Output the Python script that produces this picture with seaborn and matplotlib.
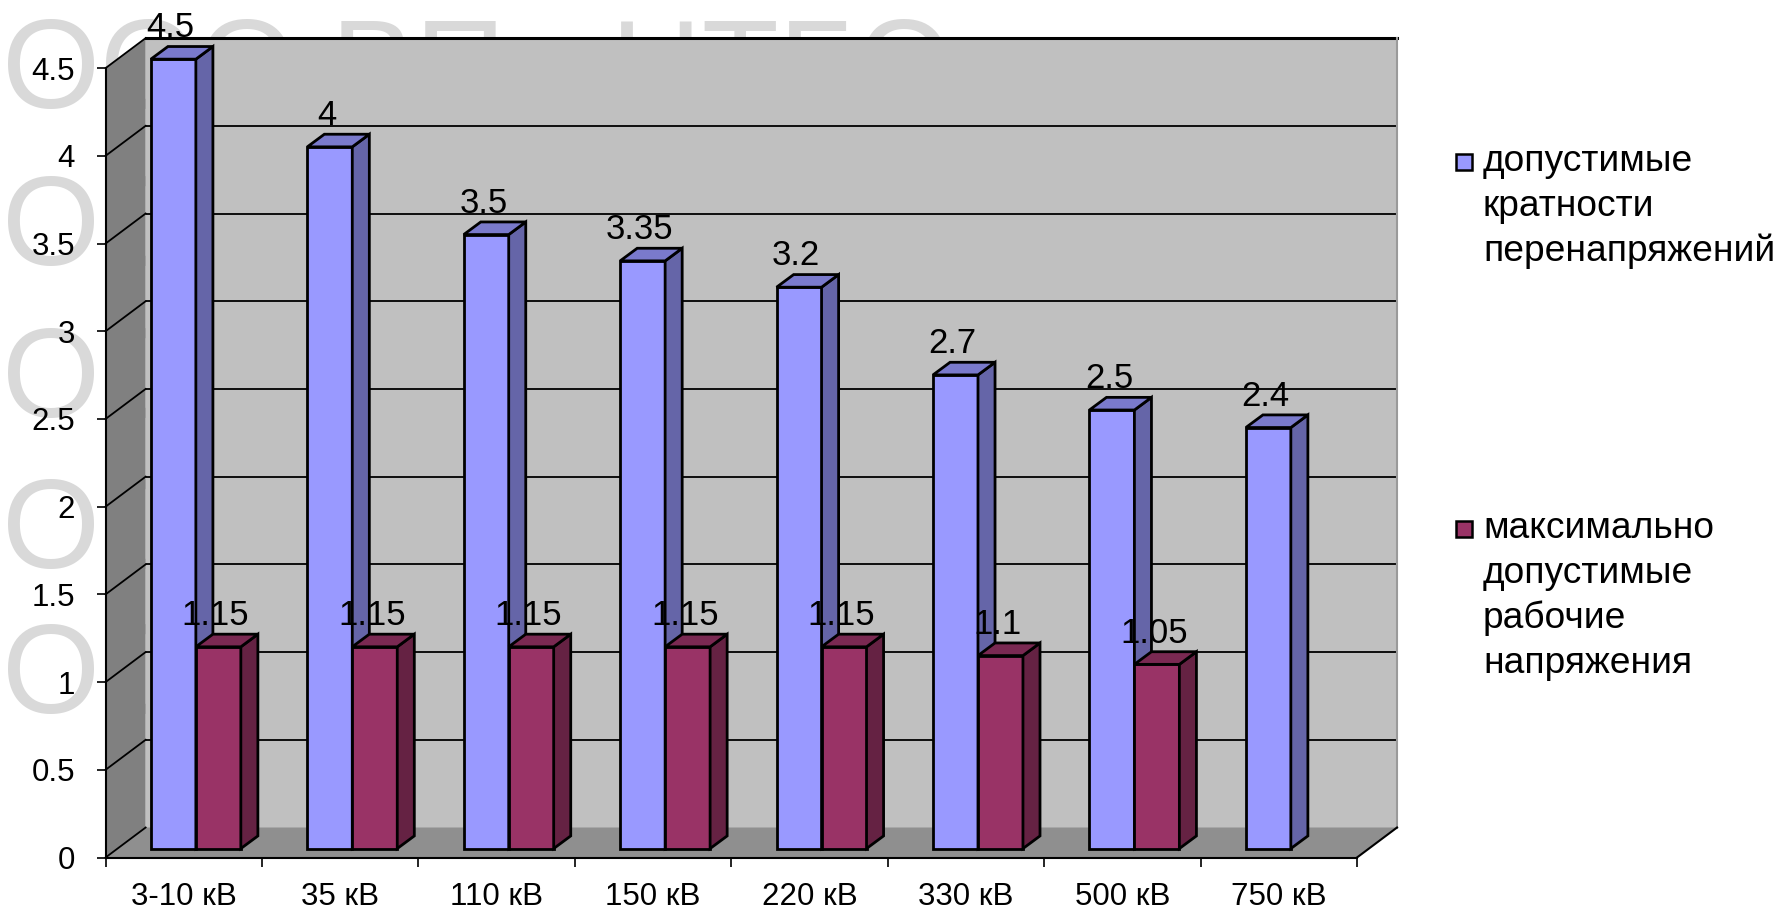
import numpy as np
import pandas as pd
import seaborn as sns
import matplotlib.pyplot as plt
from matplotlib.patches import Polygon, Rectangle
from matplotlib.colors import to_rgb
from matplotlib.ticker import FuncFormatter

# data
categories = ["3-10 кВ", "35 кВ", "110 кВ", "150 кВ", "220 кВ", "330 кВ", "500 кВ", "750 кВ"]
overvoltage = [4.5, 4.0, 3.5, 3.35, 3.2, 2.7, 2.5, 2.4]
max_working = [1.15, 1.15, 1.15, 1.15, 1.15, 1.1, 1.05, None]
series_names = ["допустимые\nкратности\nперенапряжений",
                "максимально\nдопустимые\nрабочие\nнапряжения"]
palette = ["#9999ff", "#993366"]
y_ticks = [0, 0.5, 1, 1.5, 2, 2.5, 3, 3.5, 4, 4.5]
watermark = "ООО ВП «НТБЭ»"

df = pd.DataFrame({
    "category": categories * 2,
    "series": [series_names[0]] * len(categories) + [series_names[1]] * len(categories),
    "value": overvoltage + max_working,
}).dropna()

W, H = 1781, 913
plt.rcParams["font.family"] = ["Liberation Sans", "DejaVu Sans"]

fig = plt.figure(figsize=(W / 100, H / 100), dpi=100)
ax = fig.add_axes([105.6 / W, 1 - 857.5 / H, (1357 - 105.6) / W, (857.5 - 68.1) / H])
ax.set_facecolor("none")

sns.barplot(data=df, x="category", y="value", hue="series", order=categories,
            hue_order=series_names, palette=palette, saturation=1, width=0.575,
            edgecolor="black", linewidth=2, errorbar=None, legend=False,
            ax=ax, zorder=3)

x0, x1, ymax = -0.5, len(categories) - 0.5, 4.5
ax.set_xlim(x0, x1)
ax.set_ylim(0, ymax)

# 3d offsets (data units)
bdx, bdy = 0.256, 0.171   # back wall depth
fdx, fdy = 0.077, 0.051   # bar front face inset
ddx, ddy = 0.109, 0.072   # bar depth

# walls and floor
ax.add_patch(Polygon([(x0 + bdx, bdy), (x0 + bdx, ymax + bdy), (x1 + bdx, ymax + bdy), (x1 + bdx, bdy)],
                     fc="#c0c0c0", ec="none", zorder=0.4, clip_on=False))
for v in y_ticks[1:-1]:
    ax.plot([x0 + bdx, x1 + bdx], [v + bdy] * 2, color="black", lw=1.3, zorder=0.45, clip_on=False)
ax.add_patch(Polygon([(x0, 0), (x0, ymax), (x0 + bdx, ymax + bdy), (x0 + bdx, bdy)],
                     fc="#808080", ec="none", zorder=0.5, clip_on=False))
ax.add_patch(Polygon([(x0, 0), (x1, 0), (x1 + bdx, bdy), (x0 + bdx, bdy)],
                     fc="#8f8f8f", ec="none", zorder=0.6, clip_on=False))
for v in y_ticks:
    ax.plot([x0, x0 + bdx], [v, v + bdy], color="black", lw=1.3, zorder=0.7, clip_on=False)
ax.plot([x0 + bdx, x1 + bdx], [ymax + bdy] * 2, color="black", lw=2.2, zorder=0.7, clip_on=False)
ax.plot([x1 + bdx] * 2, [bdy, ymax + bdy], color="#9a9a9a", lw=1.5, zorder=0.7, clip_on=False)
ax.plot([x1, x1 + bdx], [0, bdy], color="black", lw=1.5, zorder=0.7, clip_on=False)

# 3d bars: shift front faces, add side and top faces, value labels
for level, cont in enumerate(ax.containers):
    z = 3 + level * 0.5
    for bar in cont:
        h = bar.get_height()
        if not np.isfinite(h) or h <= 0:
            continue
        bar.set_x(bar.get_x() + fdx)
        bar.set_y(bar.get_y() + fdy)
        bar.set_zorder(z)
        bar.set_clip_on(False)
        bx0 = bar.get_x()
        bx1 = bx0 + bar.get_width()
        by0 = bar.get_y()
        by1 = by0 + h
        fc = np.array(to_rgb(bar.get_facecolor()))
        ax.add_patch(Polygon([(bx1, by0), (bx1 + ddx, by0 + ddy), (bx1 + ddx, by1 + ddy), (bx1, by1)],
                             fc=fc * 0.66, ec="black", lw=2, zorder=z, clip_on=False))
        ax.add_patch(Polygon([(bx0, by1), (bx0 + ddx, by1 + ddy), (bx1 + ddx, by1 + ddy), (bx1, by1)],
                             fc=fc * 0.8, ec="black", lw=2, zorder=z, clip_on=False))
        ax.annotate(f"{h:g}", xy=((bx0 + bx1) / 2, by1 + ddy), xytext=(-2, 1.5),
                    textcoords="offset points", ha="center", va="bottom", fontsize=25,
                    zorder=6, annotation_clip=False)

# axes
for s in ["top", "right"]:
    ax.spines[s].set_visible(False)
for s in ["left", "bottom"]:
    ax.spines[s].set_color("black")
    ax.spines[s].set_linewidth(1.5)
ax.set_yticks(y_ticks)
ax.yaxis.set_major_formatter(FuncFormatter(lambda v, p: f"{v:g}"))
ax.tick_params(axis="y", direction="out", length=6.5, width=1.2, labelsize=22.5, pad=15.5)
ax.set_xticks(np.arange(x0, x1 + 0.01, 1), minor=True)
ax.tick_params(axis="x", which="major", length=0, labelsize=22.5, pad=17.5)
ax.tick_params(axis="x", which="minor", direction="out", length=6.5, width=1.2)
ax.set_xlabel("")
ax.set_ylabel("")

# watermark rows behind the chart
for b in [108, 265, 417, 568, 713]:
    fig.text(2 / W, 1 - b / H, watermark, fontsize=90.7, color="#d9d9d9",
             ha="left", va="baseline", zorder=-1)

# legend
for name, color, yc in zip(series_names, palette, [162, 529]):
    fig.add_artist(Rectangle((1456 / W, 1 - (yc + 8) / H), 16 / W, 16 / H,
                             transform=fig.transFigure, fc=color, ec="black", lw=1.8))
    fig.text(1483 / W, 1 - (yc - 18) / H, name, fontsize=26.7, ha="left",
             va="top", linespacing=1.36)

plt.savefig("out.png", dpi=100)
